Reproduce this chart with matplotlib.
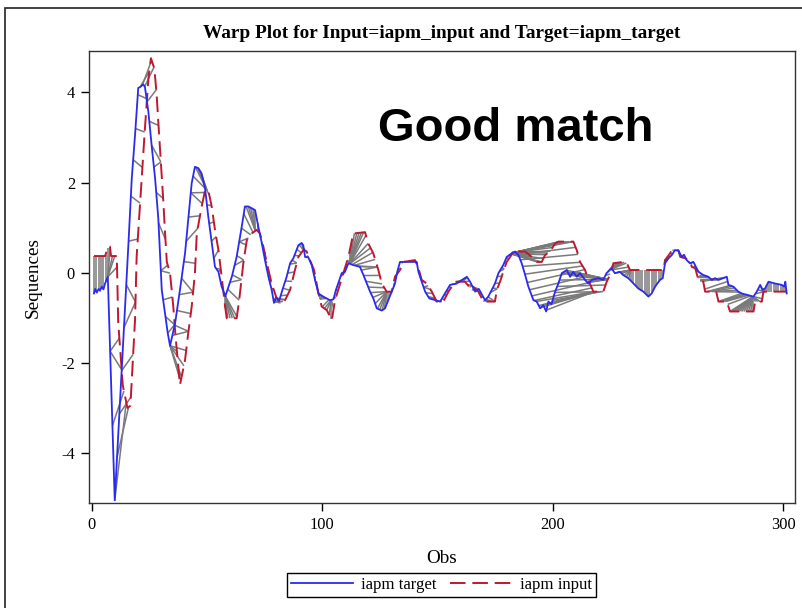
import numpy as np
import matplotlib
matplotlib.use("Agg")
import matplotlib.pyplot as plt
from matplotlib.patches import Rectangle
from matplotlib.collections import LineCollection
from matplotlib.lines import Line2D

plt.rcParams["axes.unicode_minus"] = False

# ---------------- data ----------------
target_obs = [1, 1.5, 2.2, 3, 3.6, 4.4, 5.1, 5.8, 7, 10, 15.9, 17.4, 18.8, 20.2, 21, 22.4, 23.1,
              24.6, 26, 27.5, 28.9, 30.4, 31.8, 33, 34, 36.2, 38.3, 40.5, 42.7, 43.4, 44.8,
              46.3, 47.7, 49.2, 50.6, 52.1, 53.5, 55, 56.4, 58, 60.8, 62.9, 65.1, 66.5, 68,
              70.9, 72.3, 73.8, 75.2, 76.7, 78.1, 79.1, 80, 81.4, 83.2, 84.6, 86.1, 87.5,
              89.7, 91.1, 91.8, 92.6, 94, 95.5, 96.9, 98.4, 100.5, 103.4, 104.9, 106, 108.5,
              109.9, 111.4, 113.5, 116.4, 117.9, 120.8, 122.2, 123.7, 125.9, 127.3, 128.7,
              130.2, 131.6, 132.6, 133.8, 141, 141.8, 143.2, 144.7, 146.5, 151.2, 153.3,
              155.5, 158.4, 162.8, 164.2, 166.4, 168, 170.7, 172.1, 175, 176.5, 178.6, 180.1,
              182.3, 183.7, 185.2, 186.6, 188.1, 189.5, 191.7, 193.1, 194.6, 196, 197.2,
              198.2, 199.5, 201.1, 202.5, 204, 206.2, 207.6, 209, 210.5, 211.9, 214.1, 215.5,
              217, 219.8, 222, 223.4, 225.6, 227, 229.2, 230.6, 232.8, 233.6, 237.2, 239.4,
              241.6, 243, 244.5, 246.6, 247.8, 248.8, 250.3, 251.7, 253.1, 254.6, 256.1,
              257, 258.2, 259.6, 261.1, 262.2, 263.3, 265.4, 267.6, 269.1, 270.5, 272, 274.1,
              275.6, 276.3, 278.5, 280.6, 282.1, 284.3, 287.2, 288.6, 290.1, 291, 292.2,
              293.7, 296.6, 299.5, 300.5, 301, 301.6]
target_val = [-0.46, -0.36, -0.44, -0.36, -0.40, -0.31, -0.37, -0.24, -0.09, -5.05, 0.6, 2.1,
              3.05, 4.1, 4.12, 4.18, 4.12, 3.57, 2.83, 2.1, 1.21, -0.38, -0.9, -1.34, -1.62,
              -1.12, -0.38, 0.43, 1.61, 1.99, 2.35, 2.32, 2.2, 1.87, 1.24, 0.66, 0.13, 0.02,
              -0.31, -0.52, -0.09, 0.35, 1.02, 1.47, 1.47, 1.39, 1.02, 0.66, 0.28, -0.09,
              -0.38, -0.67, -0.56, -0.61, -0.31, -0.09, 0.21, 0.32, 0.61, 0.66, 0.61, 0.35,
              0.34, 0.17, -0.16, -0.46, -0.53, -0.61, -0.59, -0.38, -0.01, 0.02, 0.21, 0.17,
              0.13, -0.05, -0.42, -0.57, -0.79, -0.84, -0.79, -0.61, -0.42, -0.24, 0.02, 0.24,
              0.24, 0.02, -0.2, -0.42, -0.57, -0.64, -0.46, -0.27, -0.24, -0.09, -0.2, -0.42,
              -0.36, -0.61, -0.53, -0.24, -0.01, 0.17, 0.35, 0.43, 0.47, 0.39, 0.21, -0.05,
              -0.31, -0.61, -0.64, -0.79, -0.72, -0.86, -0.64, -0.7, -0.42, -0.24, -0.01,
              0.06, -0.09, 0.02, -0.09, -0.01, -0.16, -0.24, -0.16, -0.12, -0.16, -0.01, 0.1,
              -0.01, 0.02, -0.05, -0.12, -0.16, -0.35, -0.42, -0.53, -0.46, -0.31, -0.16,
              -0.12, 0.21, 0.32, 0.39, 0.5, 0.49, 0.35, 0.4, 0.28, 0.21, 0.24, 0.13, 0.02,
              -0.05, -0.09, -0.16, -0.12, -0.16, -0.12, -0.09, -0.27, -0.31, -0.42, -0.46,
              -0.49, -0.53, -0.42, -0.27, -0.38, -0.35, -0.2, -0.24, -0.27, -0.31, -0.2,
              -0.46]

input_obs = [1, 5.8, 7.2, 7.9, 8.4, 10.9, 11.5, 13.5, 15.5, 16.8, 18.8, 19.5, 21.7, 23.1,
             24.6, 25.7, 27.2, 28.2, 28.9, 31.1, 31.8, 32.6, 34, 35.4, 36.4, 37.6, 38.3,
             40.5, 41.9, 43.4, 44.8, 45.6, 47.7, 49.2, 50.6, 52.1, 53.5, 55, 56.4, 57.9,
             58.6, 62.9, 64, 65.8, 67.3, 69.4, 71.6, 73, 74.5, 76, 78.1, 80, 81.7, 83.9,
             86.1, 88.2, 89.7, 91.8, 93.3, 94.7, 96.5, 98.4, 99.8, 102, 104.2, 105.6, 107,
             109.2, 111.4, 113.5, 118.6, 120, 122.2, 124.4, 125.9, 128, 130.2, 131.6,
             133.8, 135.2, 140.3, 141.8, 143.2, 145.4, 147.6, 149.7, 152.6, 154.8, 157.7,
             162, 164.9, 165.6, 167.8, 170, 175, 175.8, 177.2, 178.6, 180.1, 181.6, 183,
             188.1, 191.7, 193.1, 195.3, 196.7, 198.9, 201.1, 202.5, 209, 210.5, 211.9,
             214.1, 215.5, 217.7, 222, 223.5, 224.9, 226.4, 230.7, 232.2, 233.6, 248.1,
             248.8, 251, 251.7, 254.6, 255.4, 257.6, 259.8, 260.4, 261.9, 263.3, 265.4,
             266.2, 271, 272, 275.6, 277, 287.2, 287.9, 290.8, 291.5, 301.6]
input_val = [0.37, 0.37, 0.58, 0.58, 0.37, 0.37, -1.1, -2.5, -3.0, -2.95, -1.05, 0.35, 2.1,
             3.2, 4.3, 4.76, 4.53, 3.94, 3.35, 1.57, 0.91, 0.24, -0.01, -0.75, -1.42, -2.08,
             -2.49, -1.94, -1.34, -0.75, -0.01, 0.87, 1.46, 1.83, 1.83, 1.46, 0.95, 0.5,
             -0.09, -0.75, -1.01, -1.01, -0.61, 0.21, 0.72, 0.87, 0.95, 0.87, 0.58, 0.21,
             -0.24, -0.53, -0.68, -0.61, -0.38, 0.06, 0.35, 0.5, 0.47, 0.28, 0.06, -0.46,
             -0.75, -0.83, -1.05, -0.61, -0.38, -0.01, 0.35, 0.87, 0.9, 0.65, 0.43, 0.06,
             -0.24, -0.42, -0.42, -0.09, 0.06, 0.24, 0.28, 0.1, -0.16, -0.24, -0.42, -0.64,
             -0.64, -0.42, -0.2, -0.2, -0.38, -0.31, -0.42, -0.64, -0.64, -0.38, -0.2, 0.02,
             0.24, 0.35, 0.47, 0.47, 0.32, 0.24, 0.24, 0.39, 0.47, 0.65, 0.69, 0.69, 0.5,
             0.24, 0.06, -0.16, -0.42, -0.42, -0.2, -0.05, 0.21, 0.24, 0.21, 0.06, 0.06,
             0.28, 0.43, 0.5, 0.5, 0.35, 0.32, 0.24, 0.13, 0.1, -0.16, -0.2, -0.42, -0.42,
             -0.64, -0.64, -0.86, -0.86, -0.64, -0.64, -0.42, -0.42]

x_ticks = [0, 100, 200, 300]
y_ticks = [-4, -2, 0, 2, 4]
title = "Warp Plot for Input=iapm_input and Target=iapm_target"
legend_labels = ["iapm target", "iapm input"]

# ---------------- warping path (dynamic time warping, banded) ----------------
grid = np.arange(1, 302)
t_g = np.interp(grid, target_obs, target_val)
r_g = np.interp(grid, input_obs, input_val)

def dtw_path(a, b, lead=10, lag=25):
    n, m = len(a), len(b)
    cost = np.abs(a[:, None] - b[None, :])
    D = np.full((n + 1, m + 1), np.inf)
    D[0, 0] = 0.0
    for i in range(1, n + 1):
        ci = cost[i - 1]
        Dp = D[i - 1]
        Di = D[i]
        for j in range(max(1, i - lead), min(m, i + lag) + 1):
            best = Dp[j - 1]
            if Dp[j] < best:
                best = Dp[j]
            if Di[j - 1] < best:
                best = Di[j - 1]
            Di[j] = ci[j - 1] + best
    i, j = n, m
    path = [(i - 1, j - 1)]
    while i > 1 or j > 1:
        opts = [(D[i - 1, j - 1], i - 1, j - 1), (D[i - 1, j], i - 1, j), (D[i, j - 1], i, j - 1)]
        _, i, j = min(opts, key=lambda o: o[0])
        path.append((i - 1, j - 1))
    return path[::-1]

path = dtw_path(t_g, r_g)
segs = [[(grid[i], t_g[i]), (grid[j], r_g[j])] for i, j in path]

# ---------------- figure ----------------
W, H = 803, 608
fig = plt.figure(figsize=(W / 100, H / 100), dpi=100)
fig.patch.set_facecolor("white")

ax_l, ax_r, ax_t, ax_b = 89, 795, 51, 503
ax = fig.add_axes([ax_l / W, 1 - ax_b / H, (ax_r - ax_l) / W, (ax_b - ax_t) / H])

serif = ["Liberation Serif", "DejaVu Serif"]
blue = "#2A2AF0"
red = "#C0182F"

ax.add_collection(LineCollection(segs, colors="#7A7A7A", linewidths=1.1, zorder=1))
ax.plot(input_obs, input_val, color=red, lw=1.4, ls=(0, (8, 3.5)), zorder=2)
ax.plot(target_obs, target_val, color=blue, lw=1.3, zorder=3)

ax.set_xlim(-1.17, 305.2)
ax.set_ylim(-5.11, 4.92)
ax.set_xticks(x_ticks)
ax.set_yticks(y_ticks)
ax.tick_params(axis="both", direction="out", length=6, width=1, labelsize=11.8,
               top=False, right=False, pad=4)
for lab in ax.get_xticklabels() + ax.get_yticklabels():
    lab.set_family(serif)
for sp in ax.spines.values():
    sp.set_linewidth(1.0)
    sp.set_color("#333333")

ax.set_xlabel("Obs", fontsize=13.8, family=serif, labelpad=12)
fig.text(33 / W, 1 - 278 / H, "Sequences", rotation=90, ha="center", va="center",
         fontsize=13.8, family=serif)

fig.text(442 / W, 1 - 33 / H, title, ha="center", va="center", fontsize=13.9,
         fontweight="bold", family=serif)

ax.text(184, 3.2, "Good match", fontsize=34, fontweight="bold",
        family=["Liberation Sans", "DejaVu Sans"], ha="center", va="center", zorder=5)

handles = [Line2D([], [], color=blue, lw=1.3),
           Line2D([], [], color=red, lw=1.4, ls=(0, (8, 3.5)))]
leg = fig.legend(handles, legend_labels, loc="center", bbox_to_anchor=(441.5 / W, 1 - 585 / H),
                 ncol=2, frameon=True, fancybox=False, edgecolor="black", framealpha=1,
                 prop={"family": serif, "size": 12.1}, handlelength=3.7, handletextpad=0.45,
                 columnspacing=0.85, borderpad=0.25, borderaxespad=0)
leg.get_frame().set_linewidth(1.0)

# outer frame of the picture
fig.patches.append(Rectangle((5 / W, -0.1), 1.2, 1 - 8 / H + 0.1, transform=fig.transFigure,
                             fill=False, ec="#222222", lw=1.2))

fig.savefig("out.png", dpi=100)
